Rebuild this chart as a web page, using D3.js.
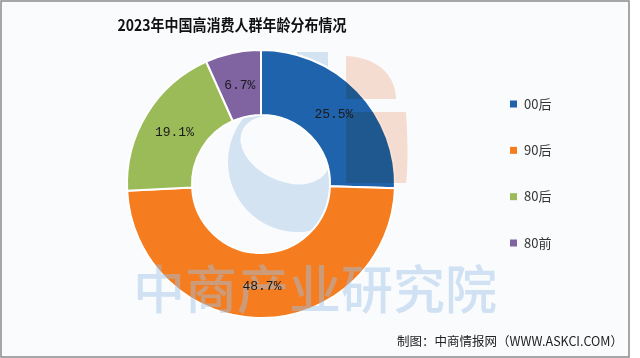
<!DOCTYPE html>
<html><head><meta charset="utf-8">
<script src="https://cdn.jsdelivr.net/npm/d3@7"></script>
<style>html,body{margin:0;padding:0;background:#fff;}svg{display:block;}</style>
</head><body>
<script>
const title = "2023年中国高消费人群年龄分布情况";
const categories = ["00后", "90后", "80后", "80前"];
const values = [25.5, 48.7, 19.1, 6.7];
const colors = ["#1f63ad", "#f57c1f", "#9bbb59", "#8064a2"];
const source = "制图：中商情报网（WWW.ASKCI.COM）";
const watermark = "中商产业研究院";

const W = 640, H = 358;
const svg = d3.select("body").append("svg").attr("width", W).attr("height", H);

svg.append("rect").attr("x", 1).attr("y", 1).attr("width", 628).attr("height", 356)
  .attr("fill", "#fafbfd").attr("stroke", "#8a8a8a").attr("stroke-width", 1.5);

const cx = 261, cy = 184, rOut = 134, rIn = 69;

// logo (light blue) under donut
const logo = svg.append("g");
const defs = svg.append("defs");
const mask = defs.append("mask").attr("id", "crescent");
mask.append("rect").attr("width", W).attr("height", H).attr("fill", "#fff");
mask.append("ellipse").attr("cx", 285).attr("cy", 150).attr("rx", 47).attr("ry", 31)
  .attr("transform", "rotate(25,285,150)").attr("fill", "#000");
logo.append("circle").attr("cx", 298).attr("cy", 162).attr("r", 70)
  .attr("fill", "#d3e3f2").attr("mask", "url(#crescent)");
logo.append("rect").attr("x", 297).attr("y", 52).attr("width", 31).attr("height", 60).attr("fill", "#d3e3f2");

const pie = d3.pie().sort(null).value(d => d)(values);
const arc = d3.arc().innerRadius(rIn).outerRadius(rOut);
const g = svg.append("g").attr("transform", `translate(${cx},${cy})`);
g.selectAll("path").data(pie).join("path")
  .attr("d", arc).attr("fill", (d, i) => colors[i])
  .attr("stroke", "#fff").attr("stroke-width", 2);

// peach logo part over donut
svg.append("path").attr("transform", "translate(346,183)")
  .attr("d", "M0,-127 C38,-125 50,-102 50,-84 L0,-84 Z M0,-71 L60,-71 C62,-40 62,-15 60,0 L0,0 Z")
  .attr("fill", "#fae0d3").style("mix-blend-mode", "multiply");

// watermark text
svg.append("text").attr("x", 133).attr("y", 309)
  .attr("font-family", "'Noto Sans CJK SC', sans-serif").attr("font-weight", 500)
  .attr("font-size", 52).attr("textLength", 364).attr("lengthAdjust", "spacingAndGlyphs")
  .attr("fill", "#9cc3e8").attr("opacity", 0.45).text(watermark);

// value labels on top
const lg = svg.append("g").attr("transform", `translate(${cx},${cy})`);
lg.selectAll("text").data(pie).join("text")
  .attr("transform", d => `translate(${arc.centroid(d)})`)
  .attr("text-anchor", "middle").attr("dy", "0.35em")
  .attr("font-family", "'Liberation Mono', monospace").attr("font-size", 13)
  .attr("fill", "#1a1a1a")
  .text(d => d.data.toFixed(1) + "%");

// title
svg.append("text").attr("x", 232).attr("y", 31).attr("text-anchor", "middle")
  .attr("font-family", "'Noto Sans CJK SC', sans-serif").attr("font-weight", "bold")
  .attr("font-size", 15.5).attr("textLength", 229).attr("lengthAdjust", "spacingAndGlyphs")
  .attr("fill", "#111").text(title);

// legend
const leg = svg.append("g");
const ly = d3.scalePoint().domain(categories).range([104, 243]);
categories.forEach((c, i) => {
  leg.append("rect").attr("x", 510).attr("y", ly(c) - 3.5).attr("width", 7).attr("height", 7).attr("fill", colors[i]);
  leg.append("text").attr("x", 524).attr("y", ly(c)).attr("dy", "0.36em")
    .attr("font-family", "'Noto Sans CJK SC', sans-serif").attr("font-size", 13)
    .attr("fill", "#333").text(c);
});

// source
svg.append("text").attr("x", 623).attr("y", 346).attr("text-anchor", "end")
  .attr("font-family", "'Noto Sans CJK SC', sans-serif").attr("font-size", 12.5)
  .attr("fill", "#222").text(source);
</script>
</body></html>
